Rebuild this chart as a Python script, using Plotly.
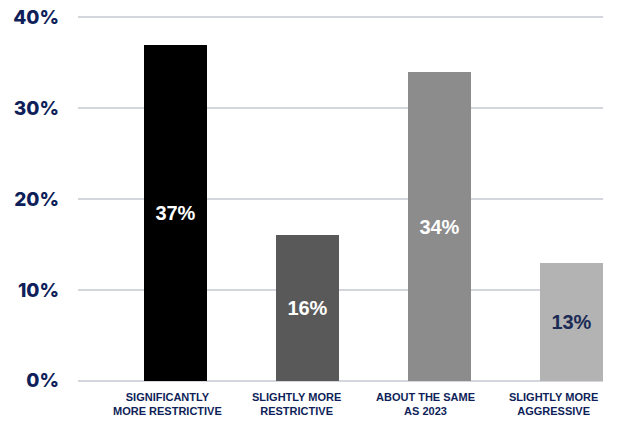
import plotly.graph_objects as go

categories = ["SIGNIFICANTLY<br>MORE RESTRICTIVE", "SLIGHTLY MORE<br>RESTRICTIVE",
              "ABOUT THE SAME<br>AS 2023", "SLIGHTLY MORE<br>AGGRESSIVE"]
values = [37, 16, 34, 13]
y_ticks = [0, 10, 20, 30, 40]
y_tick_labels = ["0%", "10%", "20%", "30%", "40%"]

bar_colors = ["#000000", "#595959", "#8c8c8c", "#b3b3b3"]
text_colors = ["#ffffff", "#ffffff", "#ffffff", "#1b2b55"]
navy = "#0f1f5a"
label_shift = [-8, -11, -14, -18]

x_idx = list(range(len(categories)))

fig = go.Figure()
fig.add_trace(go.Bar(
    x=x_idx, y=values, width=0.48,
    marker=dict(color=bar_colors, line=dict(width=0)),
    text=[f"{v}%" for v in values],
    textposition="inside", insidetextanchor="middle", textangle=0,
    textfont=dict(family="Liberation Sans", size=20, color=text_colors, weight="bold"),
    hoverinfo="skip",
))

for i, c in enumerate(categories):
    fig.add_annotation(
        x=i, y=0, xref="x", yref="y", text=c, showarrow=False,
        yanchor="top", yshift=-8, xshift=label_shift[i],
        font=dict(family="Liberation Sans", size=11, color=navy, weight="bold"),
        align="center",
    )

fig.update_layout(
    width=637, height=429,
    margin=dict(l=78, r=34, t=16, b=46, autoexpand=False),
    paper_bgcolor="white", plot_bgcolor="white",
    showlegend=False,
    bargap=0,
    xaxis=dict(range=[-0.739, 3.239], showticklabels=False, showgrid=False,
               zeroline=False, showline=False, ticks="", automargin=False),
    yaxis=dict(range=[-0.25, 40.15], tickvals=y_ticks, ticktext=y_tick_labels,
               showgrid=True, gridcolor="#d3d6dd", gridwidth=2,
               zeroline=False, showline=False, ticks="", automargin=False,
               ticklabelstandoff=18,
               tickfont=dict(family="Inter", size=19, color=navy, weight=800)),
)

fig.write_html("out.html")
